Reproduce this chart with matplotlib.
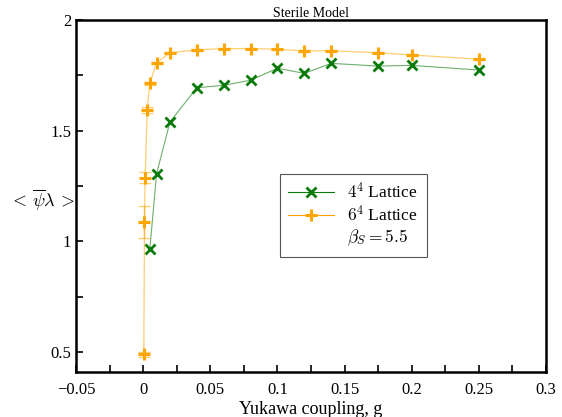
import matplotlib
matplotlib.use("Agg")
import matplotlib.pyplot as plt
from matplotlib.ticker import MultipleLocator

plt.rcParams['font.family'] = ['Liberation Serif', 'DejaVu Serif']
plt.rcParams['mathtext.fontset'] = 'cm'
plt.rcParams['axes.unicode_minus'] = True

# Data
g4 = [0.005, 0.01, 0.02, 0.04, 0.06, 0.08, 0.1, 0.12, 0.14, 0.175, 0.2, 0.25]
v4 = [0.967, 1.305, 1.540, 1.694, 1.705, 1.728, 1.782, 1.759, 1.804, 1.792, 1.795, 1.774]

g6 = [0.0005, 0.001, 0.0015, 0.003, 0.005, 0.01, 0.02, 0.04, 0.06, 0.08, 0.1, 0.12, 0.14, 0.175, 0.2, 0.25]
v6 = [0.49, 1.088, 1.287, 1.594, 1.714, 1.807, 1.852, 1.865, 1.871, 1.871, 1.868, 1.860, 1.861, 1.852, 1.842, 1.823]
e6 = [0.01, 0.072, 0.025, 0.014, 0.006, 0.004, 0.003, 0.003, 0.003, 0.003, 0.003, 0.003, 0.003, 0.003, 0.003, 0.003]

labels = [r'$4^4$ Lattice', r'$6^4$ Lattice', r'$\beta_S = 5.5$']
title = 'Sterile Model'
xlabel = 'Yukawa coupling, g'
ylabel = r'$<\,\overline{\psi}\lambda\,>$'

fig = plt.figure(figsize=(5.62, 4.17), dpi=100)
ax = fig.add_axes([76/562, 45/417, 470/562, 352/417])

green = '#0a7a0a'
orange = '#ffa500'

ax.plot(g4, v4, color=green, lw=0.8, alpha=0.6)
ax.plot(g4, v4, ls='none', marker='x', ms=7, mew=2, color=green)
ax.errorbar(g6, v6, yerr=e6, color=orange, lw=0.9, alpha=0.55, capsize=4, elinewidth=1)
ax.plot(g6, v6, ls='none', marker='+', ms=9, mew=2.2, color=orange)

h1, = ax.plot([], [], color=green, lw=0.8, marker='x', ms=7, mew=2)
h2, = ax.plot([], [], color=orange, lw=0.8, marker='+', ms=9, mew=2.2)
h3, = ax.plot([], [], color='none', lw=0)
leg = ax.legend([h1, h2, h3], labels, loc='center', bbox_to_anchor=(0.59, 0.445),
                fontsize=12.5, frameon=True, fancybox=False, edgecolor='#555555',
                framealpha=1, handlelength=2.6, borderpad=0.5, labelspacing=0.15)
leg.get_frame().set_linewidth(0.8)

ax.set_xlim(-0.05, 0.3)
ax.set_ylim(0.41, 2.0)
ax.xaxis.set_major_locator(MultipleLocator(0.05))
ax.xaxis.set_minor_locator(MultipleLocator(0.025))
ax.yaxis.set_major_locator(MultipleLocator(0.5))
ax.yaxis.set_minor_locator(MultipleLocator(0.25))

def fmt(v, pos):
    s = ('%.2f' % v).rstrip('0').rstrip('.')
    if s in ('-0', '0'):
        return '0'
    return s.replace('-', '\u2212')
ax.xaxis.set_major_formatter(plt.FuncFormatter(fmt))
ax.yaxis.set_major_formatter(plt.FuncFormatter(fmt))

ax.tick_params(which='both', direction='in', length=5, width=1.2, labelsize=12,
               top=False, right=False)
ax.tick_params(axis='x', pad=7)
for s in ax.spines.values():
    s.set_linewidth(1.8)

ax.set_title(title, fontsize=10, pad=2)
ax.set_xlabel(xlabel, fontsize=13, labelpad=2)
ax.set_ylabel(ylabel, fontsize=13, rotation=0, va='center', ha='center')
ax.yaxis.set_label_coords(-0.073, 0.49)

fig.savefig('out.png', dpi=100)
